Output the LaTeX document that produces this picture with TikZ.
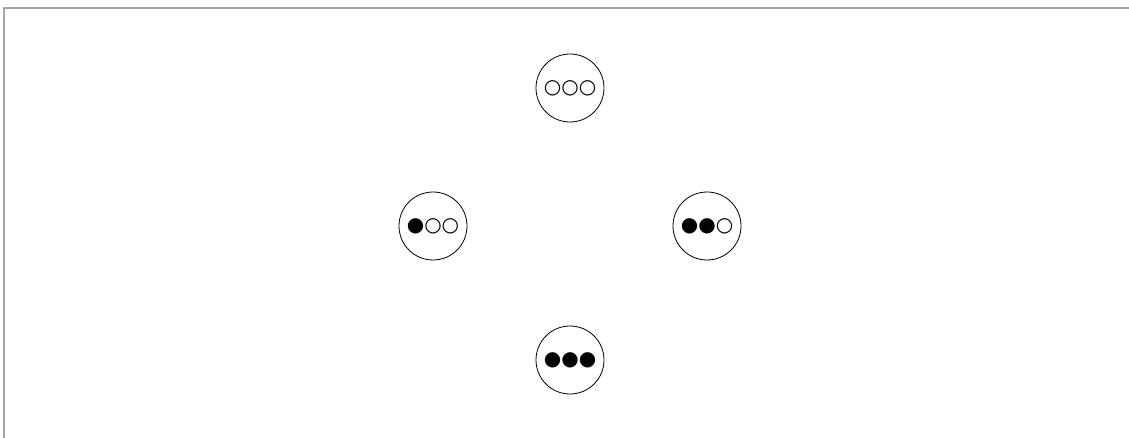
\documentclass[tikz,border=0pt]{standalone}
\usepackage{fontspec}
\newfontfamily\dotfont{DejaVu Sans}
\usetikzlibrary{automata,positioning}
\tikzset{
  every state/.style={draw, line width=0.8pt, fill=white, minimum size=68pt, inner sep=0pt,
    font=\dotfont\fontsize{20}{20}\selectfont},
}

\begin{document}
\begin{tikzpicture}[x=1pt, y=-1pt, node distance=138pt and 137pt, on grid]
  \useasboundingbox (0,0) rectangle (1129,438);
  \draw[gray!70, line width=1.6pt] (4,438) |- (1129,8);

  \node[state] (zero) at (570,88) {○○○};
  \node[state, below left=of zero] (one) {●○○};
  \node[state, below right=of zero] (two) {●●○};
  \node[state, below=272pt of zero] (three) {●●●};
\end{tikzpicture}
\end{document}
